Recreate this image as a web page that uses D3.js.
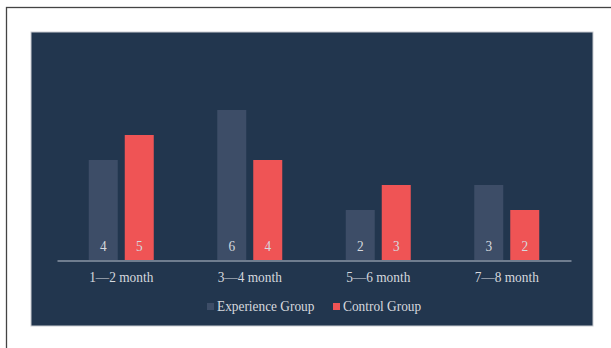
<!DOCTYPE html>
<html><head><meta charset="utf-8">
<script src="https://cdn.jsdelivr.net/npm/d3@7"></script>
<style>html,body{margin:0;padding:0;background:#fff;}svg{display:block;}</style>
</head><body>
<script>
const categories = ["1\u20142 month", "3\u20144 month", "5\u20146 month", "7\u20148 month"];
const seriesNames = ["Experience Group", "Control Group"];
const experience = [4, 6, 2, 3];
const control = [5, 4, 3, 2];
const colors = ["#3d4d67", "#ef5455"];

const W = 611, H = 348;
const svg = d3.select("body").append("svg").attr("width", W).attr("height", H);
svg.append("rect").attr("width", W).attr("height", H).attr("fill", "#fff");
// outer frame
svg.append("rect").attr("x", 6.5).attr("y", 7.5).attr("width", 620).attr("height", 360)
  .attr("fill", "none").attr("stroke", "#444").attr("stroke-width", 1.3);
// panel
svg.append("rect").attr("x", 31).attr("y", 32).attr("width", 562).attr("height", 294)
  .attr("fill", "#22364e").attr("stroke", "#c9ccd1").attr("stroke-width", 1);

const x = d3.scaleBand().domain(categories).range([57, 571]);
const y = d3.scaleLinear().domain([0, 6]).range([260, 110]);
const barW = 29, gap = 7;
const font = "'Liberation Serif', 'Times New Roman', serif";
const sx = 0.89;

const data = categories.map((c, i) => ({c, vals: [experience[i], control[i]]}));
const g = svg.append("g");
data.forEach(d => {
  const cx = x(d.c) + x.bandwidth() / 2;
  d.vals.forEach((v, j) => {
    const bx = j === 0 ? cx - gap / 2 - barW : cx + gap / 2;
    g.append("rect").attr("x", bx).attr("y", y(v)).attr("width", barW).attr("height", y(0) - y(v))
      .attr("fill", colors[j]);
    g.append("text").attr("transform", `translate(${bx + barW / 2},251) scale(${sx},1)`)
      .attr("text-anchor", "middle")
      .attr("font-family", font).attr("font-size", 15).attr("fill", "#d6d9de").text(v);
  });
});

// axis
const ax = svg.append("g").attr("transform", "translate(0,260.5)")
  .call(d3.axisBottom(x).tickSize(0).tickPadding(10));
ax.select(".domain").attr("stroke", "#8a96a6").attr("stroke-width", 1.5);
ax.selectAll("text").attr("font-family", font).attr("font-size", 15).attr("fill", "#d6d9de")
  .attr("dy", "0.71em").attr("y", 11).attr("transform", `scale(${sx},1)`);

// legend
const leg = svg.append("g");
const legItems = [{name: seriesNames[0], x: 207}, {name: seriesNames[1], x: 333}];
legItems.forEach((it, j) => {
  leg.append("rect").attr("x", it.x).attr("y", 303).attr("width", 7).attr("height", 7).attr("fill", colors[j]);
  leg.append("text").attr("transform", `translate(${it.x + 10},311) scale(${sx},1)`)
    .attr("font-family", font).attr("font-size", 15)
    .attr("fill", "#d6d9de").text(it.name);
});
</script>
</body></html>
